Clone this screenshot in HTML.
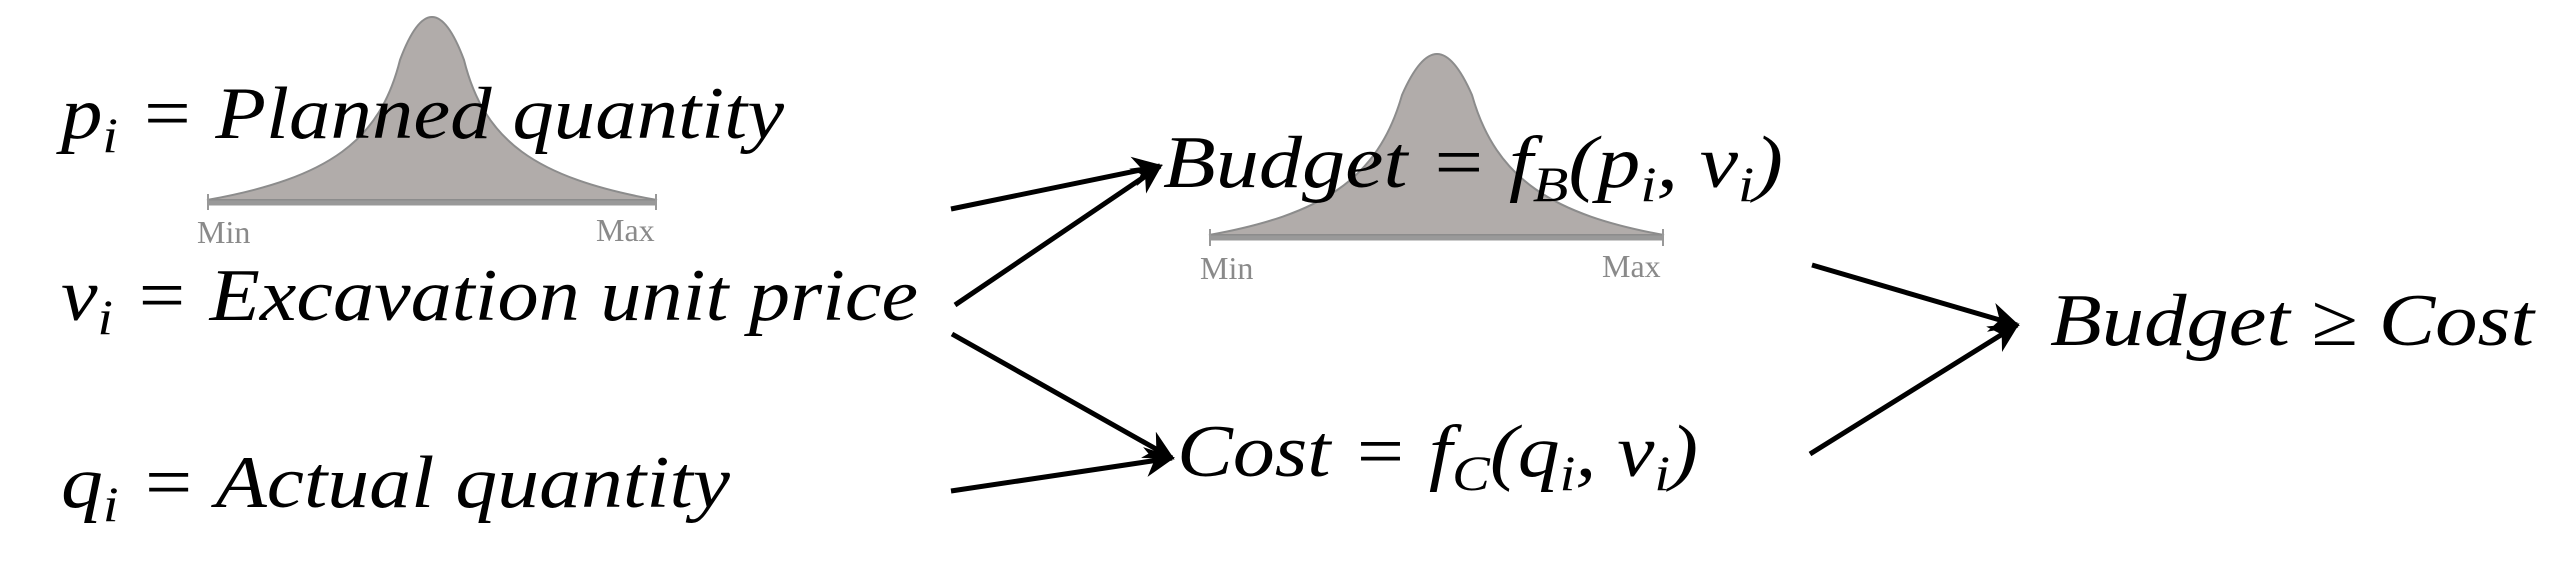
<!DOCTYPE html>
<html><head><meta charset="utf-8"><style>
html,body{margin:0;padding:0;background:#fff;}
svg{display:block;}
.t{font-family:"Liberation Serif",serif;font-style:italic;font-size:74px;fill:#000;}
.l{font-family:"Liberation Serif",serif;font-size:32px;fill:#8a8a8a;}
</style></head><body>
<svg width="2552" height="564" viewBox="0 0 2552 564" xmlns="http://www.w3.org/2000/svg">
<defs>
<marker id="a" viewBox="0 0 10 10" refX="9" refY="5" markerWidth="6" markerHeight="6" orient="auto" markerUnits="strokeWidth">
<path d="M0,0 L10,5 L0,10 L3,5 Z" fill="#000"/></marker>
</defs>
<path d="M207,200 C330,178 380,140 400,60 Q416,17 432,17 Q448,17 464,60 C484,140 534,178 657,200 Z" fill="#b1acaa" stroke="#8c8c8c" stroke-width="2"/>
<line x1="207" y1="203" x2="657" y2="203" stroke="#999" stroke-width="5"/>
<line x1="208" y1="194" x2="208" y2="210" stroke="#999" stroke-width="2"/>
<line x1="656" y1="194" x2="656" y2="210" stroke="#999" stroke-width="2"/>
<text class="l" x="197" y="243">Min</text>
<text class="l" x="596" y="241">Max</text>
<path d="M1209,235 C1320,215 1378,180 1402,95 Q1420,54 1437,54 Q1454,54 1472,95 C1496,180 1554,215 1664,235 Z" fill="#b1acaa" stroke="#8c8c8c" stroke-width="2"/>
<line x1="1209" y1="238" x2="1664" y2="238" stroke="#999" stroke-width="5"/>
<line x1="1210" y1="229" x2="1210" y2="246" stroke="#999" stroke-width="2"/>
<line x1="1663" y1="229" x2="1663" y2="246" stroke="#999" stroke-width="2"/>
<text class="l" x="1200" y="279">Min</text>
<text class="l" x="1602" y="277">Max</text>
<text class="t" x="61" y="138" textLength="723" lengthAdjust="spacingAndGlyphs">p<tspan font-size="50" dy="14">i</tspan><tspan dy="-14"> = Planned quantity</tspan></text>
<text class="t" x="61" y="320" textLength="857" lengthAdjust="spacingAndGlyphs">v<tspan font-size="50" dy="14">i</tspan><tspan dy="-14"> = Excavation unit price</tspan></text>
<text class="t" x="61" y="507" textLength="669" lengthAdjust="spacingAndGlyphs">q<tspan font-size="50" dy="14">i</tspan><tspan dy="-14"> = Actual quantity</tspan></text>
<text class="t" x="1163" y="187" textLength="620" lengthAdjust="spacingAndGlyphs">Budget = f<tspan font-size="50" dy="14">B</tspan><tspan dy="-14">(p</tspan><tspan font-size="50" dy="14">i</tspan><tspan dy="-14">, v</tspan><tspan font-size="50" dy="14">i</tspan><tspan dy="-14">)</tspan></text>
<text class="t" x="1177" y="476" textLength="521" lengthAdjust="spacingAndGlyphs">Cost = f<tspan font-size="50" dy="14">C</tspan><tspan dy="-14">(q</tspan><tspan font-size="50" dy="14">i</tspan><tspan dy="-14">, v</tspan><tspan font-size="50" dy="14">i</tspan><tspan dy="-14">)</tspan></text>
<text class="t" x="2050" y="345" textLength="484" lengthAdjust="spacingAndGlyphs">Budget ≥ Cost</text>
<g stroke="#000" stroke-width="5" fill="none">
<line x1="951" y1="209" x2="1160" y2="166" marker-end="url(#a)"/>
<line x1="955" y1="305" x2="1160" y2="166" marker-end="url(#a)"/>
<line x1="952" y1="334" x2="1172" y2="458" marker-end="url(#a)"/>
<line x1="951" y1="491" x2="1172" y2="458" marker-end="url(#a)"/>
<line x1="1812" y1="265" x2="2017" y2="325" marker-end="url(#a)"/>
<line x1="1810" y1="454" x2="2017" y2="325" marker-end="url(#a)"/>
</g>
</svg>
</body></html>
